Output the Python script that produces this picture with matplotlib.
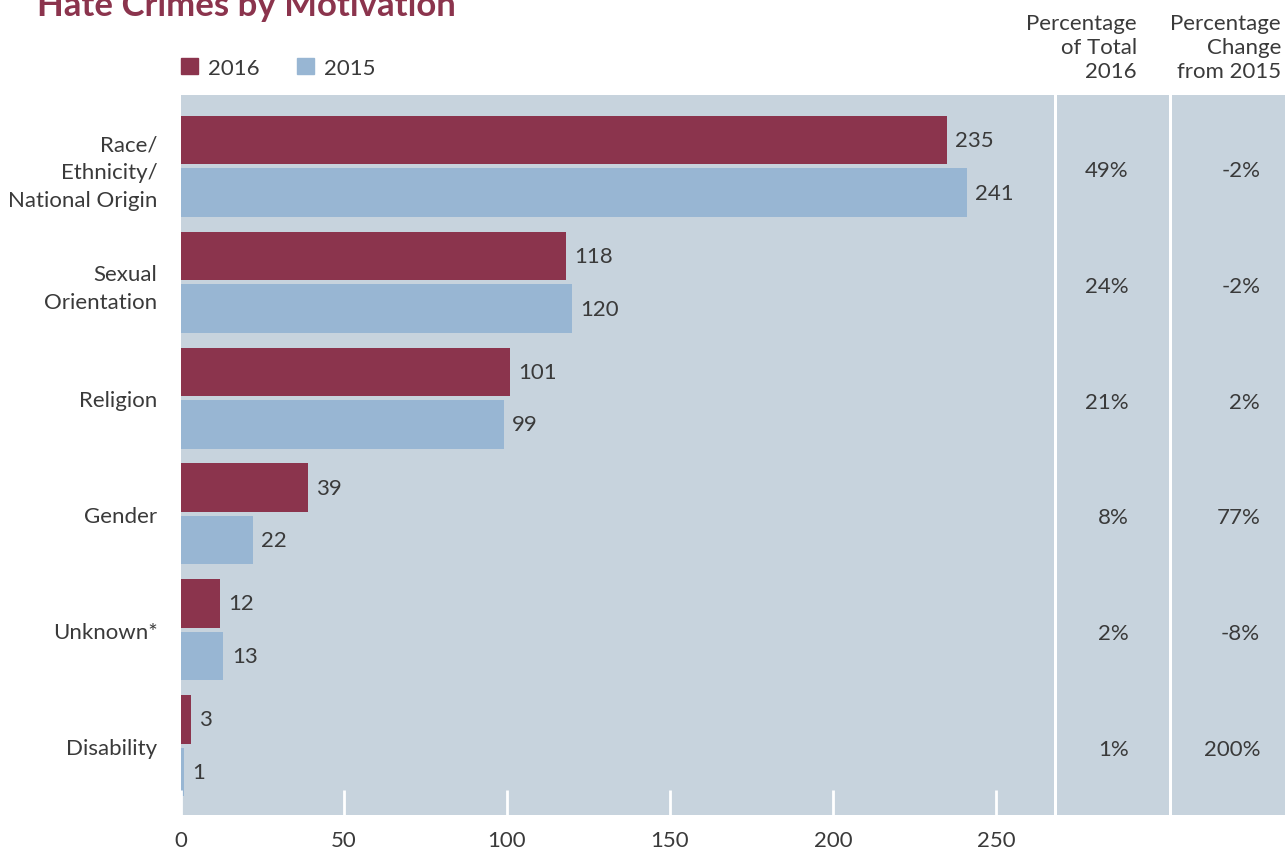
import numpy as np
import matplotlib
matplotlib.use("Agg")
import matplotlib.pyplot as plt
from matplotlib.patches import Patch

plt.rcParams["font.family"] = ["Lato", "DejaVu Sans"]

categories = ["Race/\nEthnicity/\nNational Origin", "Sexual\nOrientation",
              "Religion", "Gender", "Unknown*", "Disability"]
counts_2016 = [235, 118, 101, 39, 12, 3]
counts_2015 = [241, 120, 99, 22, 13, 1]
pct_of_total = ["49%", "24%", "21%", "8%", "2%", "1%"]
pct_change = ["-2%", "-2%", "2%", "77%", "-8%", "200%"]
x_ticks = [0, 50, 100, 150, 200, 250]

red = "#8B344D"
blue = "#98B6D3"
panel = "#C7D3DD"
text_col = "#3a3a3a"
fs = 16

W, H = 1286, 854
fig = plt.figure(figsize=(W / 100, H / 100), dpi=100)


def fx(px):
    return px / W


def fy(py):
    return 1 - py / H


bottom = fy(816)
height = fy(96) - bottom
ax = fig.add_axes([fx(181), bottom, fx(1054 - 181), height])
ax2 = fig.add_axes([fx(1057), bottom, fx(1169 - 1057), height])
ax3 = fig.add_axes([fx(1172), bottom, fx(1285 - 1172), height])

y = np.arange(len(categories))
bar_h = 0.419
off = 0.2267

for a in (ax, ax2, ax3):
    a.set_facecolor(panel)
    for s in a.spines.values():
        s.set_visible(False)
    a.set_ylim(5.6, -0.617)

b16 = ax.barh(y - off, counts_2016, height=bar_h, color=red)
b15 = ax.barh(y + off, counts_2015, height=bar_h, color=blue)
ax.bar_label(b16, padding=6, fontsize=fs, color=text_col)
ax.bar_label(b15, padding=6, fontsize=fs, color=text_col)

ax.set_xlim(0, 267.8)
ax.set_xticks(x_ticks)
ax.tick_params(axis="x", direction="in", length=18, width=2, color="white",
               pad=11, labelsize=fs, labelcolor=text_col)
ax.set_yticks(y)
ax.set_yticklabels(categories)
ax.tick_params(axis="y", length=0, pad=17, labelsize=fs, labelcolor=text_col)
for lab in ax.get_yticklabels():
    lab.set_linespacing(1.5)

for a in (ax2, ax3):
    a.set_xticks([])
    a.set_yticks([])

for i in range(len(categories)):
    ax2.text(0.64, i + 0.03, pct_of_total[i], transform=ax2.get_yaxis_transform(),
             ha="right", va="center", fontsize=fs, color=text_col)
    ax3.text(0.78, i + 0.03, pct_change[i], transform=ax3.get_yaxis_transform(),
             ha="right", va="center", fontsize=fs, color=text_col)

fig.text(fx(1137), fy(48), "Percentage\nof Total\n2016", ha="right",
         va="center", fontsize=fs, color=text_col, linespacing=1.22)
fig.text(fx(1281), fy(48), "Percentage\nChange\nfrom 2015", ha="right",
         va="center", fontsize=fs, color=text_col, linespacing=1.22)

fig.text(fx(37), fy(6), "Hate Crimes by Motivation", ha="left", va="center",
         fontsize=25, fontweight="bold", color=red)

handles = [Patch(color=red, label="2016"), Patch(color=blue, label="2015")]
fig.legend(handles=handles, loc="center left", bbox_to_anchor=(fx(181), fy(69)),
           ncol=2, frameon=False, fontsize=fs, handlelength=0.75,
           handleheight=0.75, handletextpad=0.45, columnspacing=1.7,
           borderpad=0, borderaxespad=0, labelcolor=text_col)

fig.savefig("out.png", dpi=100)
